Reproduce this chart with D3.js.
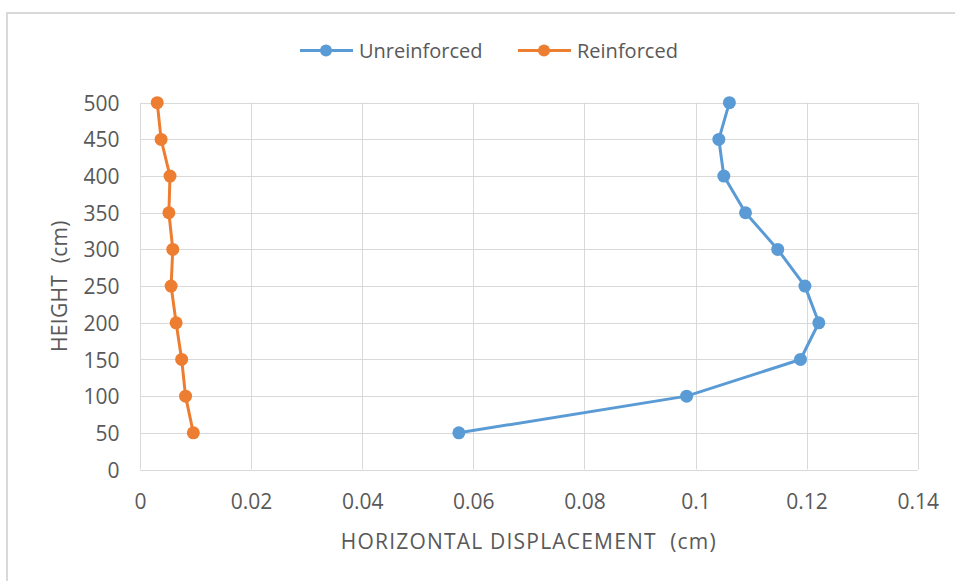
<!DOCTYPE html>
<html>
<head>
<meta charset="utf-8">
<script src="https://cdn.jsdelivr.net/npm/d3@7"></script>
<style>
  html, body { margin: 0; padding: 0; background: #ffffff; }
  svg { display: block; }
  text { font-family: "Open Sans", "Noto Sans", sans-serif; fill: #595959; white-space: pre; }
</style>
</head>
<body>
<svg id="chart" width="955" height="581"></svg>
<script>
// ---- Data ----
const heights = [50, 100, 150, 200, 250, 300, 350, 400, 450, 500];
const unreinforced = [0.0574, 0.0984, 0.1189, 0.1222, 0.1197, 0.1148, 0.1090, 0.1051, 0.1042, 0.1061];
const reinforced = [0.0096, 0.0082, 0.0075, 0.0065, 0.0056, 0.0059, 0.0052, 0.0054, 0.0038, 0.0031];
const xTicks = [0, 0.02, 0.04, 0.06, 0.08, 0.1, 0.12, 0.14];
const yTicks = [0, 50, 100, 150, 200, 250, 300, 350, 400, 450, 500];
const seriesNames = ["Unreinforced", "Reinforced"];
const seriesColors = ["#5b9bd5", "#ed7d31"];
const xTitle = "HORIZONTAL DISPLACEMENT  (cm)";
const yTitle = "HEIGHT  (cm)";

// ---- Layout ----
const svg = d3.select("#chart");
const plot = { left: 140, right: 917.7, top: 102.7, bottom: 469.5 };
const FONT = '"Open Sans", "Noto Sans", sans-serif';

const x = d3.scaleLinear().domain([0, 0.14]).range([plot.left, plot.right]);
const y = d3.scaleLinear().domain([0, 500]).range([plot.bottom, plot.top]);

// outer chart frame (cropped on right/bottom)
svg.append("path")
  .attr("d", `M7,${581} L7,13 L955,13`)
  .attr("fill", "none")
  .attr("stroke", "#d9d9d9")
  .attr("stroke-width", 2);

// gridlines
const grid = svg.append("g");
grid.selectAll("line.h").data(yTicks).join("line")
  .attr("x1", plot.left).attr("x2", plot.right)
  .attr("y1", d => Math.round(y(d)) + 0.5).attr("y2", d => Math.round(y(d)) + 0.5)
  .attr("stroke", "#d9d9d9").attr("stroke-width", 1);
grid.selectAll("line.v").data(xTicks).join("line")
  .attr("y1", plot.top).attr("y2", plot.bottom)
  .attr("x1", d => Math.round(x(d)) + 0.5).attr("x2", d => Math.round(x(d)) + 0.5)
  .attr("stroke", "#d9d9d9").attr("stroke-width", 1);

// axes using d3 axis generators (labels only)
const xAxis = d3.axisBottom(x).tickValues(xTicks).tickSize(0).tickPadding(0)
  .tickFormat(d => d3.format("~g")(d));
const gx = svg.append("g").attr("transform", `translate(0, 508.5)`).call(xAxis);
gx.select(".domain").remove();
gx.selectAll("text").attr("dy", 0).attr("font-size", 21).attr("fill", "#595959")
  .style("font-family", FONT);

const yAxis = d3.axisLeft(y).tickValues(yTicks).tickSize(0).tickPadding(0);
const gy = svg.append("g").attr("transform", `translate(119.5, 0)`).call(yAxis);
gy.select(".domain").remove();
gy.selectAll("text").attr("dy", "0.36em").attr("font-size", 21).attr("fill", "#595959")
  .style("font-family", FONT);

// axis titles
svg.append("text")
  .attr("x", (plot.left + plot.right) / 2).attr("y", 549)
  .attr("text-anchor", "middle").attr("font-size", 21)
  .attr("letter-spacing", 1.2)
  .text(xTitle);
svg.append("text")
  .attr("transform", `translate(67, ${(plot.top + plot.bottom) / 2}) rotate(-90)`)
  .attr("text-anchor", "middle").attr("font-size", 21)
  .attr("letter-spacing", 0.3)
  .text(yTitle);

// series
const line = d3.line().x(d => x(d[0])).y(d => y(d[1]));
[unreinforced, reinforced].forEach((vals, i) => {
  const pts = vals.map((v, j) => [v, heights[j]]);
  const g = svg.append("g");
  g.append("path").datum(pts).attr("d", line)
    .attr("fill", "none").attr("stroke", seriesColors[i])
    .attr("stroke-width", 3).attr("stroke-linejoin", "round");
  g.selectAll("circle").data(pts).join("circle")
    .attr("cx", d => x(d[0])).attr("cy", d => y(d[1])).attr("r", 6.5)
    .attr("fill", seriesColors[i]);
});

// legend
const legendItems = [
  { name: seriesNames[0], color: seriesColors[0], x0: 300 },
  { name: seriesNames[1], color: seriesColors[1], x0: 518 }
];
const lg = svg.append("g");
legendItems.forEach(it => {
  lg.append("line").attr("x1", it.x0).attr("x2", it.x0 + 53)
    .attr("y1", 50.5).attr("y2", 50.5)
    .attr("stroke", it.color).attr("stroke-width", 3);
  lg.append("circle").attr("cx", it.x0 + 26).attr("cy", 50.5).attr("r", 6)
    .attr("fill", it.color);
  lg.append("text").attr("x", it.x0 + 59).attr("y", 50.5).attr("dy", "0.35em")
    .attr("font-size", 20).text(it.name);
});
</script>
</body>
</html>
